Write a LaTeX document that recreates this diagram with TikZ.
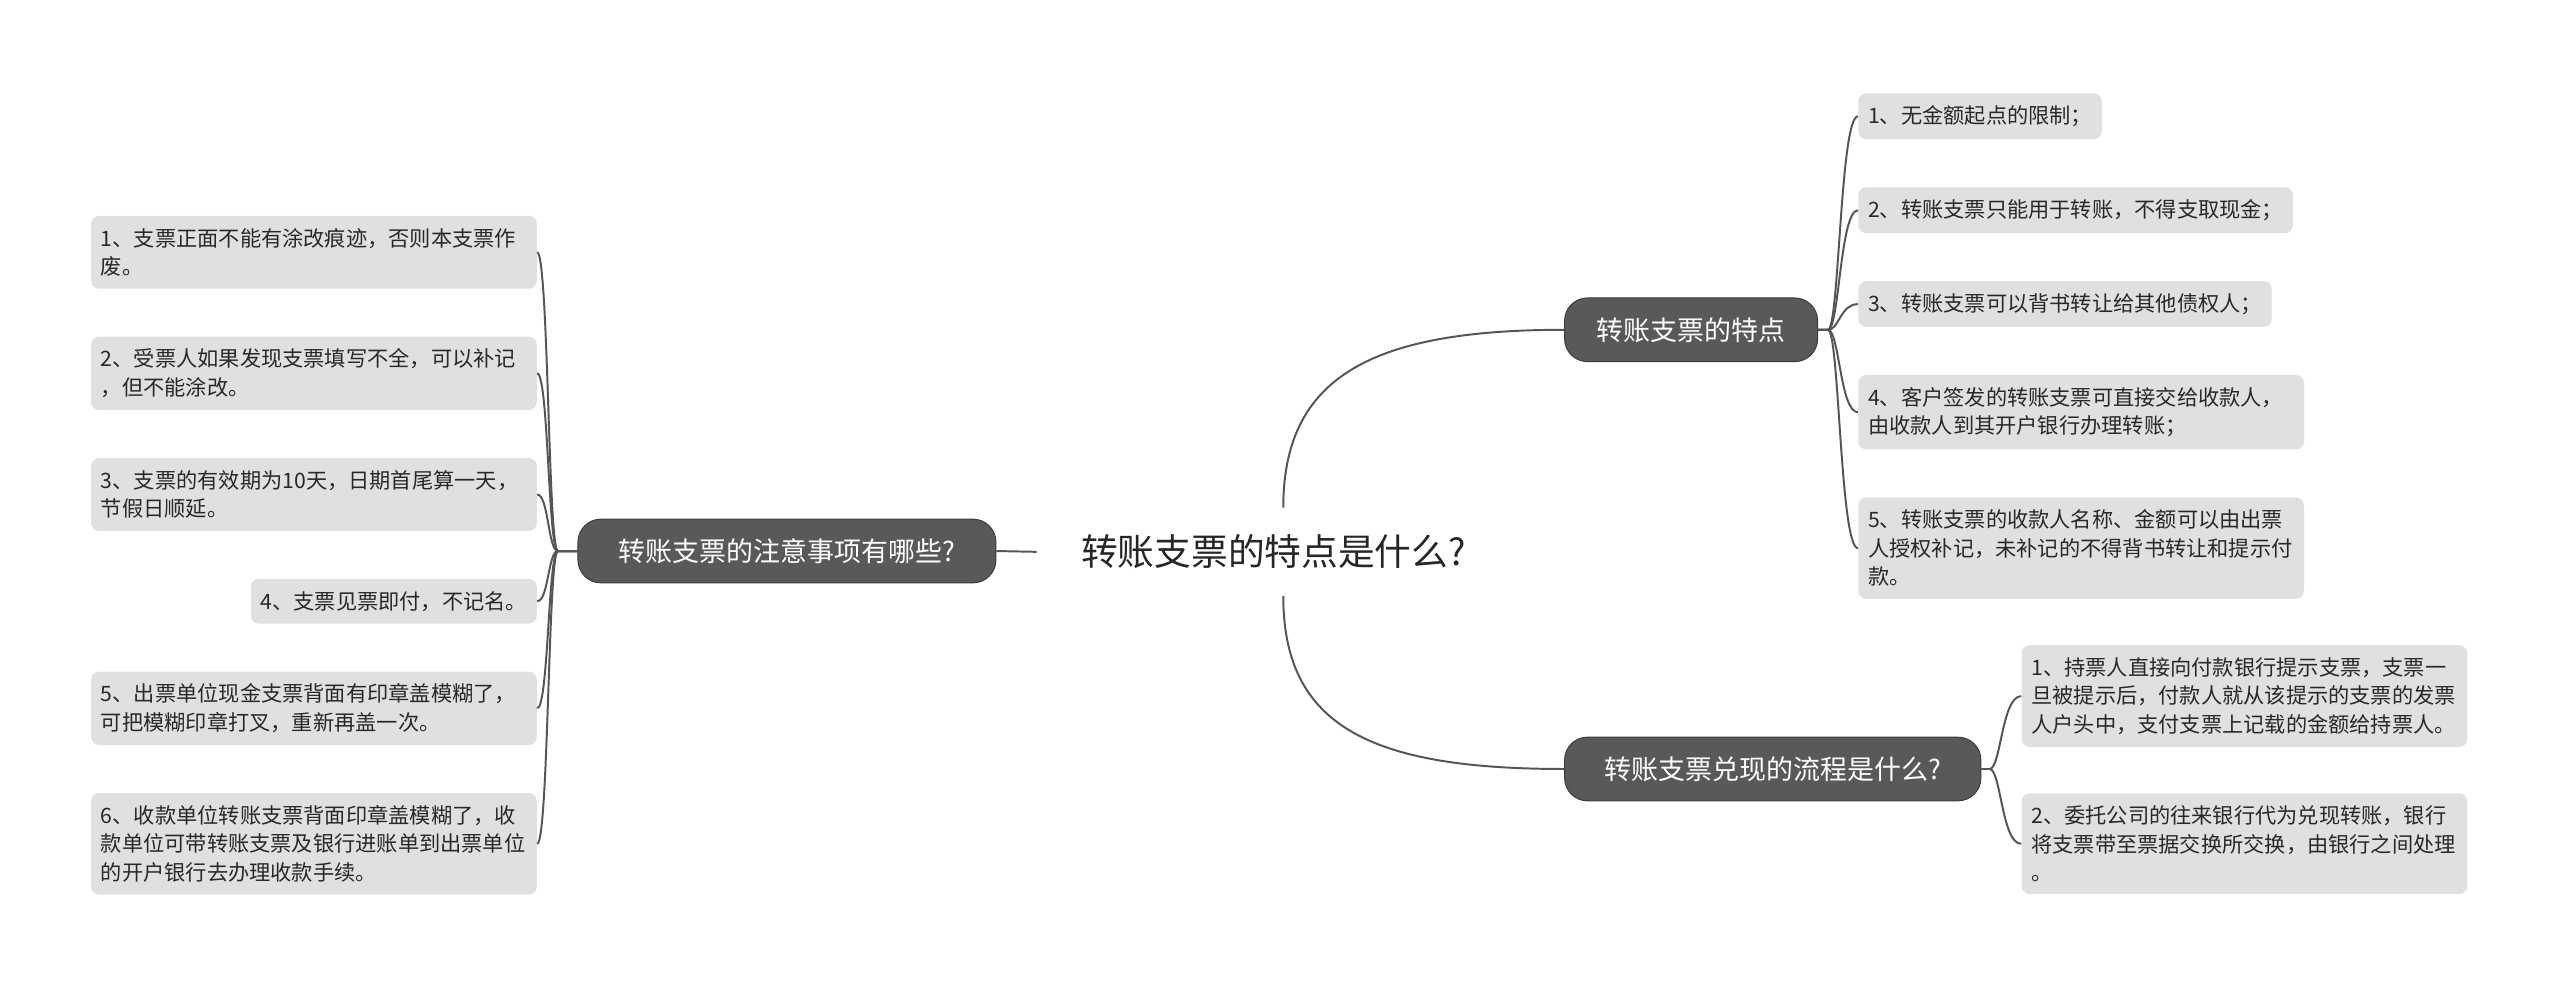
\documentclass[tikz,border=0pt]{standalone}
\usepackage{fontspec}
\setmainfont{Noto Sans CJK SC}
\usetikzlibrary{positioning}
\definecolor{mapdark}{RGB}{89,89,89}
\definecolor{mapedge}{RGB}{60,60,60}
\definecolor{mapleaf}{RGB}{224,224,224}
\definecolor{maptext}{RGB}{40,40,40}
\definecolor{mapline}{RGB}{85,85,85}
\tikzset{
  topic/.style={
    rectangle, rounded corners=14pt, draw=mapedge, line width=0.6pt,
    fill=mapdark, text=white, minimum height=39pt, inner xsep=0pt,
    font=\fontsize{16.5}{20}\selectfont
  },
  leaf/.style={
    rectangle, rounded corners=5pt, fill=mapleaf, text=maptext,
    align=left, inner xsep=6pt, inner ysep=7.5pt,
    font=\fontsize{13}{17.5}\selectfont
  },
  wideleaf/.style={leaf, text width=261pt},
  link/.style={draw=mapline, line width=1.2pt}
}

\begin{document}
\begin{tikzpicture}[x=1pt, y=-1pt]
\fill[white] (0,0) rectangle (1568,607);
\useasboundingbox (0,0) rectangle (1568,607);

% central title
\node[font=\fontsize{22.5}{26}\selectfont, text=black!85, inner xsep=27pt, inner ysep=16.5pt] (root) at (780,338) {转账支票的特点是什么?};

% main topics
\node[topic, minimum width=256pt] (tips) at (482,337.5) {转账支票的注意事项有哪些?};
\node[topic, minimum width=155pt, anchor=west] (feat) at (958,202) {转账支票的特点};
\node[topic, minimum width=255pt, anchor=west] (cash) at (958,471) {转账支票兑现的流程是什么?};

% left leaves
\node[wideleaf, anchor=north east] (t1) at (329,132) {1、支票正面不能有涂改痕迹，否则本支票作\\废。};
\node[wideleaf, below left=29pt and 0pt of t1.south east] (t2) {2、受票人如果发现支票填写不全，可以补记\\，但不能涂改。};
\node[wideleaf, below left=29pt and 0pt of t2.south east] (t3) {3、支票的有效期为10天，日期首尾算一天，\\节假日顺延。};
\node[leaf, below left=29pt and 0pt of t3.south east] (t4) {4、支票见票即付，不记名。};
\node[wideleaf, below left=29pt and 0pt of t4.south east] (t5) {5、出票单位现金支票背面有印章盖模糊了，\\可把模糊印章打叉，重新再盖一次。};
\node[wideleaf, below left=29pt and 0pt of t5.south east] (t6) {6、收款单位转账支票背面印章盖模糊了，收\\款单位可带转账支票及银行进账单到出票单位\\的开户银行去办理收款手续。};

% right leaves, features
\node[leaf, anchor=north west] (f1) at (1138,57) {1、无金额起点的限制；};
\node[leaf, below right=29pt and 0pt of f1.south west] (f2) {2、转账支票只能用于转账，不得支取现金；};
\node[leaf, below right=29pt and 0pt of f2.south west] (f3) {3、转账支票可以背书转让给其他债权人；};
\node[wideleaf, below right=29pt and 0pt of f3.south west] (f4) {4、客户签发的转账支票可直接交给收款人，\\由收款人到其开户银行办理转账；};
\node[wideleaf, below right=29pt and 0pt of f4.south west] (f5) {5、转账支票的收款人名称、金额可以由出票\\人授权补记，未补记的不得背书转让和提示付\\款。};

% right leaves, cashing
\node[wideleaf, anchor=north west] (c1) at (1238,395) {1、持票人直接向付款银行提示支票，支票一\\旦被提示后，付款人就从该提示的支票的发票\\人户头中，支付支票上记载的金额给持票人。};
\node[wideleaf, below right=28pt and 0pt of c1.south west] (c2) {2、委托公司的往来银行代为兑现转账，银行\\将支票带至票据交换所交换，由银行之间处理\\。};

% connectors
\draw[link] (tips.east) -- (root.west);
\draw[link] ([xshift=6pt]root.north) .. controls +(0,-80) and +(-118,0) .. (feat.west);
\draw[link] ([xshift=6pt]root.south) .. controls +(0,80) and +(-118,0) .. (cash.west);
\foreach \i in {1,...,6}
  \draw[link] (tips.west) -- ++(-12,0) .. controls +(-6,0) and +(7,0) .. (t\i.east);
\foreach \i in {1,...,5}
  \draw[link] (feat.east) -- ++(6,0) .. controls +(7,0) and +(-11,0) .. (f\i.west);
\foreach \i in {1,2}
  \draw[link] (cash.east) -- ++(5,0) .. controls +(7,0) and +(-12,0) .. (c\i.west);

\end{tikzpicture}
\end{document}
